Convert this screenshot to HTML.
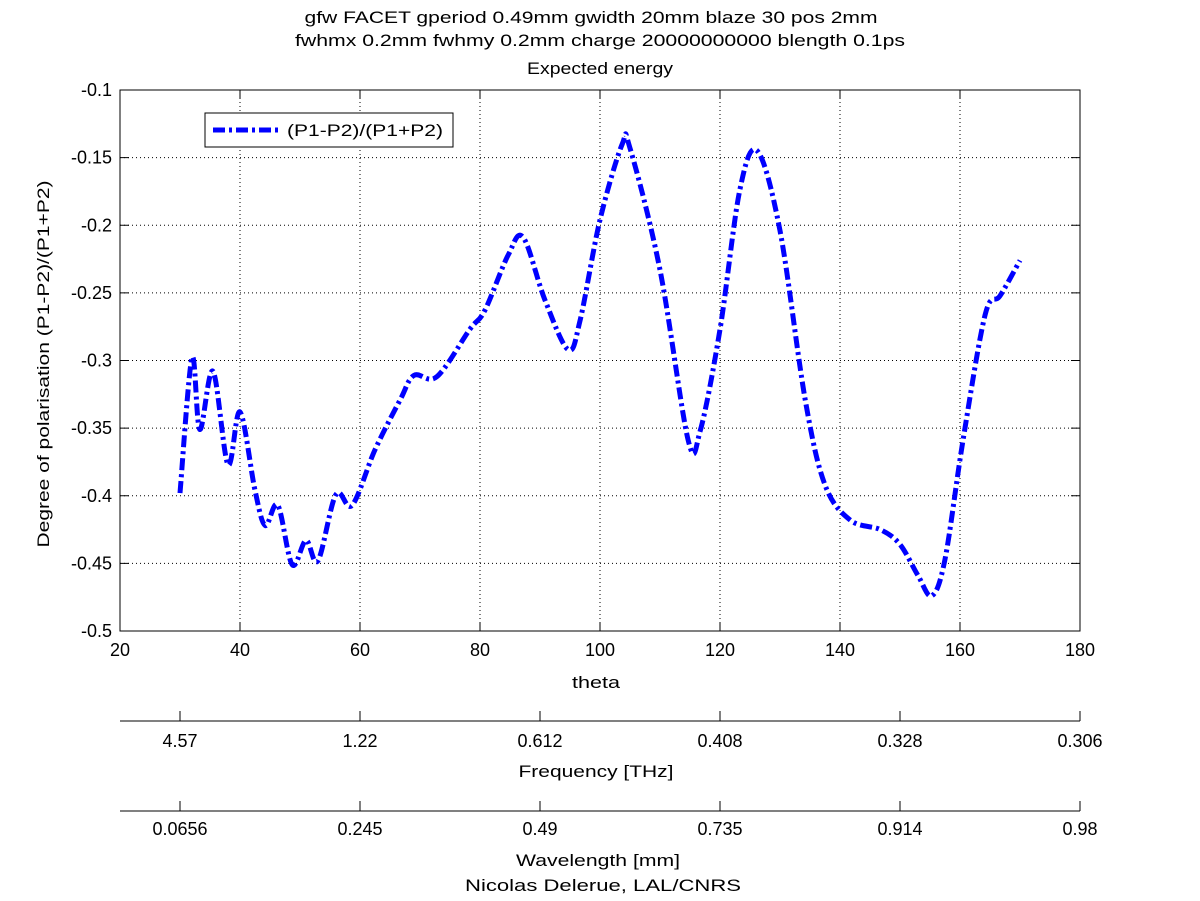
<!DOCTYPE html>
<html><head><meta charset="utf-8"><style>
body{margin:0;background:#fff;}
svg{display:block;font-family:"Liberation Sans",sans-serif;}
</style></head><body>
<svg width="1200" height="901" viewBox="0 0 1200 901">
<rect x="0" y="0" width="1200" height="901" fill="#fff"/>
<g font-size="17" text-anchor="middle" fill="#000">
<text x="591" y="23" textLength="573" lengthAdjust="spacingAndGlyphs">gfw FACET gperiod 0.49mm gwidth 20mm blaze 30 pos 2mm</text>
<text x="600" y="46" textLength="610" lengthAdjust="spacingAndGlyphs">fwhmx 0.2mm fwhmy 0.2mm charge 20000000000 blength 0.1ps</text>
<text x="600" y="74" textLength="146" lengthAdjust="spacingAndGlyphs">Expected energy</text>
</g>
<g id="grid"></g>
<rect x="120" y="90" width="960" height="541" fill="none" stroke="#000" stroke-width="1"/>
<g id="ticks"></g>
<g id="series"></g>
<text x="596" y="688" font-size="17" text-anchor="middle" textLength="48" lengthAdjust="spacingAndGlyphs">theta</text>
<text transform="translate(49,364) rotate(-90)" font-size="17" text-anchor="middle" textLength="367" lengthAdjust="spacingAndGlyphs">Degree of polarisation (P1-P2)/(P1+P2)</text>
<g id="extra"></g>
<text x="596" y="777" font-size="17" text-anchor="middle" textLength="155" lengthAdjust="spacingAndGlyphs">Frequency [THz]</text>
<text x="598" y="866" font-size="17" text-anchor="middle" textLength="164" lengthAdjust="spacingAndGlyphs">Wavelength [mm]</text>
<text x="603" y="891" font-size="17" text-anchor="middle" textLength="276" lengthAdjust="spacingAndGlyphs">Nicolas Delerue, LAL/CNRS</text>
<g>
<rect x="205" y="113" width="248" height="34" fill="#fff" stroke="#000" stroke-width="1"/>
<line x1="213" y1="130" x2="280" y2="130" stroke="#0000ff" stroke-width="5" stroke-dasharray="12,4,3,4"/>
<text x="287" y="136" font-size="17" textLength="156" lengthAdjust="spacingAndGlyphs">(P1-P2)/(P1+P2)</text>
</g>
</svg>
<script>
const thetaVals=[30,32,33.3,35.5,38,40,42.5,44.2,46.3,48.7,51,53,56,58.7,62.5,66.7,69,72.8,78.3,80.8,84.7,87.2,90.8,94.7,96.7,100,103.7,105,110,114.7,116.7,120,123.3,126.2,130,134.2,137.5,141.7,146.7,150,153,155.3,157.5,160.5,164.2,166.7,170];
const polVals=[-0.398,-0.298,-0.351,-0.308,-0.377,-0.338,-0.396,-0.422,-0.407,-0.451,-0.433,-0.448,-0.399,-0.407,-0.366,-0.329,-0.311,-0.312,-0.277,-0.263,-0.222,-0.209,-0.255,-0.292,-0.27,-0.196,-0.14,-0.143,-0.233,-0.359,-0.352,-0.277,-0.174,-0.145,-0.204,-0.329,-0.392,-0.418,-0.425,-0.436,-0.459,-0.474,-0.447,-0.359,-0.266,-0.252,-0.226];
const xTicks=[20,40,60,80,100,120,140,160,180];
const yTicks=[-0.1,-0.15,-0.2,-0.25,-0.3,-0.35,-0.4,-0.45,-0.5];
const yTickLabels=["-0.1","-0.15","-0.2","-0.25","-0.3","-0.35","-0.4","-0.45","-0.5"];
const freqLabels=["4.57","1.22","0.612","0.408","0.328","0.306"];
const waveLabels=["0.0656","0.245","0.49","0.735","0.914","0.98"];
const extraTickTheta=[30,60,90,120,150,180];
const NS="http://www.w3.org/2000/svg";
const X=t=>120+(t-20)*6;
const Y=v=>90+(-0.1-v)*1352.5;
function mk(tag,attrs,parent){const e=document.createElementNS(NS,tag);for(const k in attrs)e.setAttribute(k,attrs[k]);parent.appendChild(e);return e;}
const grid=document.getElementById('grid'),ticks=document.getElementById('ticks');
xTicks.forEach(t=>{
 const x=X(t);
 if(t>20&&t<180){const g=mk('line',{x1:x,y1:90,x2:x,y2:631,stroke:'#000','stroke-dasharray':'1,3'},grid);}
 const a=mk('line',{x1:x,y1:631,x2:x,y2:622,stroke:'#000'},ticks);
 const b=mk('line',{x1:x,y1:90,x2:x,y2:99,stroke:'#000'},ticks);
 const l=mk('text',{x:x,y:656,'font-size':18,'text-anchor':'middle'},ticks);l.textContent=t;
});
yTicks.forEach((v,i)=>{
 const y=Y(v);
 if(i>0&&i<yTicks.length-1){const g=mk('line',{x1:120,y1:y,x2:1080,y2:y,stroke:'#000','stroke-dasharray':'1,3'},grid);}
 const a=mk('line',{x1:120,y1:y,x2:129,y2:y,stroke:'#000'},ticks);
 const b=mk('line',{x1:1080,y1:y,x2:1071,y2:y,stroke:'#000'},ticks);
 const l=mk('text',{x:112,y:y+6,'font-size':18,'text-anchor':'end'},ticks);l.textContent=yTickLabels[i];
});
const pts=thetaVals.map((t,i)=>[X(t),Y(polVals[i])]);
let d='M'+pts[0][0]+','+pts[0][1];
for(let i=0;i<pts.length-1;i++){const p0=pts[Math.max(0,i-1)],p1=pts[i],p2=pts[i+1],p3=pts[Math.min(pts.length-1,i+2)];
 const c1=[p1[0]+(p2[0]-p0[0])/6,p1[1]+(p2[1]-p0[1])/6],c2=[p2[0]-(p3[0]-p1[0])/6,p2[1]-(p3[1]-p1[1])/6];
 d+=' C'+c1+' '+c2+' '+p2;}
const path=mk('path',{d:d,fill:'none',stroke:'#0000ff','stroke-width':5,'stroke-dasharray':'12,4,3,4'},document.getElementById('series'));


const extra=document.getElementById('extra');
[[721,747,freqLabels,'frequency'],[811,835,waveLabels,'wavelength']].forEach(([ly,ty,labels,nm])=>{
 const ax=mk('line',{x1:120,y1:ly,x2:1080,y2:ly,stroke:'#000'},extra);
 extraTickTheta.forEach((t,i)=>{const x=X(t);
  const tk=mk('line',{x1:x,y1:ly,x2:x,y2:ly-10,stroke:'#000'},extra);
  const l=mk('text',{x:x,y:ty,'font-size':18,'text-anchor':'middle'},extra);l.textContent=labels[i];
 });
});
</script>
</body></html>
